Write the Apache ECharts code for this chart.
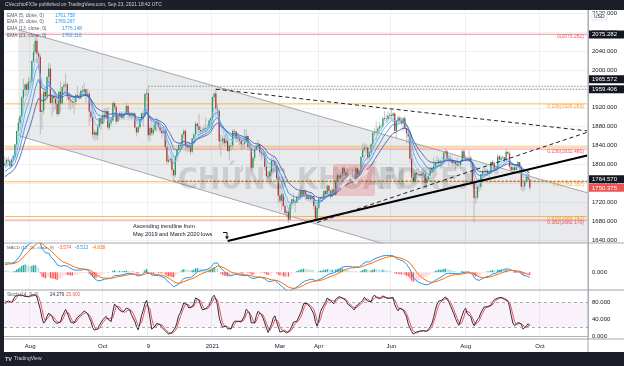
<!DOCTYPE html>
<html><head><meta charset="utf-8">
<script src="https://cdn.jsdelivr.net/npm/echarts@6.0.0/dist/echarts.min.js"></script>
<style>html,body{margin:0;padding:0;background:#fff;}#c{width:624px;height:366px;}</style>
</head><body><div id="c"></div>
<script>
// ---------- DATA (XAU/USD daily) ----------
// warm-up history for indicators (Jun 1 - Jul 10 2020), not displayed
const warmClose=[1740,1727,1700,1714,1685,1698,1715,1738,1728,1730,1726,1727,1726,1722,1744,1754,1768,1761,1762,1771,1772,1781,1769,1775,1772,1784,1795,1809,1803,1798];
const warmHigh=[1745,1745,1730,1718,1715,1702,1718,1740,1745,1737,1735,1733,1733,1730,1745,1757,1770,1773,1767,1772,1777,1785,1785,1777,1776,1787,1797,1813,1818,1808];
const warmLow=[1725,1720,1693,1698,1681,1671,1693,1712,1720,1712,1705,1714,1718,1717,1718,1741,1750,1756,1751,1760,1760,1767,1757,1765,1770,1770,1782,1795,1796,1795];
// displayed bars: Jul 13 2020 .. Sep 23 2021
const close=[
1802,1810,1808,1796,1810,1818,1842,1871,1888,1902,1941,1958,1970,1958,1975,
1976,2019,2038,2062,2035,2028,1911,1914,1954,1944,1985,2003,1930,1945,1940,1929,1907,1954,1929,1964,1968,
1970,1944,1937,1934,1931,1932,1947,1945,1940,1956,1954,1959,1945,1950,1912,1900,1863,1868,1862,1880,1898,1886,
1905,1900,1913,1878,1888,1893,1930,1922,1891,1902,1908,1899,1906,1907,1924,1905,1902,1902,1908,1878,1868,1879,
1895,1908,1904,1949,1951,1862,1877,1866,1873,1889,1888,1880,1872,1866,1871,1837,1806,1810,1812,1788,1777,
1815,1831,1841,1839,1863,1871,1839,1836,1840,1827,1855,1864,1886,1881,1873,1870,1872,1876,1877,1878,1893,1898,
1943,1950,1918,1913,1849,1850,1855,1845,1851,1828,1840,1840,1871,1870,1855,1856,1850,1843,1843,1847,
1860,1837,1835,1793,1814,1832,1838,1842,1826,1823,1819,1795,1775,1775,1784,1808,1806,1797,1770,1734,
1723,1737,1712,1697,1700,1683,1716,1726,1722,1719,1731,1731,1745,1735,1745,1737,1727,1734,1726,1733,1712,1685,1708,
1728,1729,1728,1744,1737,1755,1744,1732,1747,1736,1764,1777,1770,1778,1793,1783,1777,1780,1776,1773,1772,1768,
1792,1778,1785,1816,1831,1836,1836,1815,1826,1843,1867,1868,1869,1876,1881,1882,1898,1897,1896,1903,1905,
1903,1908,1871,1891,1899,1893,1888,1898,1877,1866,1859,1812,1773,1764,1782,1779,1779,1776,1781,1779,1761,1770,
1776,1787,1792,1796,1803,1803,1808,1806,1808,1825,1828,1812,1812,1810,1803,1805,1801,1798,1799,1806,1828,1814,
1813,1810,1814,1804,1763,1729,1730,1752,1753,1779,1786,1785,1787,1781,1781,1805,1802,1790,1792,1817,1810,1814,
1815,1809,1827,1823,1795,1788,1794,1788,1794,1805,1794,1753,1754,1764,1774,1768,1750.375];
const high=[
1817,1814,1818,1812,1814,1822,1844,1872,1898,1905,1945,1981,1971,1974,1984,
1987,2020,2055,2070,2075.282,2040,2033,1949,1956,1960,1988,2015,2013,1950,1957,1952,1940,1956,1976,1965,1975,
1992,1973,1953,1947,1935,1944,1951,1966,1952,1958,1966,1973,1960,1960,1956,1914,1903,1874,1874,1883,1900,1901,
1917,1918,1919,1921,1896,1896,1933,1933,1925,1909,1913,1912,1912,1913,1931,1925,1912,1911,1911,1910,1881,1884,
1896,1910,1915,1951,1960,1965.572,1886,1881,1884,1892,1899,1891,1884,1874,1880,1875,1840,1820,1815,1815,1792,
1820,1833,1844,1848,1867,1875,1875,1848,1848,1845,1857,1866,1891,1889,1907,1881,1878,1883,1900,1885,1896,1900,
1944,1952,1959.406,1927,1917,1863,1862,1862,1865,1857,1842,1844,1874,1875,1870,1867,1857,1852,1856,1875,
1875,1863,1844,1837,1817,1835,1844,1852,1845,1829,1828,1826,1799,1786,1790,1815,1816,1810,1798,1775,
1759,1740,1739,1717,1703,1709,1718,1727,1739,1726,1734,1740,1750,1755,1747,1747,1742,1738,1740,1736,1733,1713,1718,
1731,1732,1738,1745,1745,1758,1757,1746,1749,1749,1765,1781,1790,1785,1794,1798,1785,1790,1783,1784,1789,1781,
1798,1794,1789,1818,1843,1845,1844,1838,1828,1845,1869,1877,1891,1880,1890,1885,1900,1913,1905,1912,1909,
1916,1910,1910,1894,1904,1903,1900,1900,1903,1877,1870,1864,1824,1794,1789,1790,1795,1786,1790,1785,1780,1770,
1780,1795,1795,1815,1809,1818,1813,1810,1817,1827,1834,1831,1820,1820,1814,1809,1808,1814,1805,1807,1831,1833,
1820,1816,1832,1818,1805,1765,1745,1755,1760,1780,1789,1794,1794,1790,1787,1807,1810,1807,1798,1822,1821,1820,
1819,1816,1834,1827,1828,1800,1800,1800,1797,1808,1800,1797,1770,1767,1779,1787,1770];
const low=[
1797,1796,1800,1795,1796,1806,1814,1840,1860,1875,1900,1924,1944,1945,1950,
1962,1969,2015,2032,2015,2007,1863,1874,1906,1932,1935,1978,1931,1902,1910,1916,1901,1904,1912,1927,1955,
1961,1936,1917,1915,1921,1906,1925,1942,1936,1939,1948,1945,1930,1941,1882,1891,1855,1849,1853,1851,1876,1873,
1886,1889,1895,1873,1873,1882,1890,1916,1886,1890,1894,1895,1894,1895,1905,1893,1897,1893,1896,1876,1859,1866,
1874,1888,1880,1904,1934,1851,1849,1860,1861,1870,1870,1875,1866,1855,1864,1832,1800,1803,1803,1774,1764.57,
1773,1806,1828,1826,1830,1856,1827,1825,1826,1819,1824,1848,1860,1873,1855,1861,1863,1870,1866,1870,1875,1888,
1896,1933,1900,1904,1834,1817,1840,1837,1838,1829,1808,1829,1833,1855,1847,1846,1841,1831,1832,1834,
1845,1830,1829,1785,1787,1807,1829,1835,1816,1808,1813,1788,1768,1767,1760,1777,1782,1784,1766,1717,
1718,1702,1710,1692,1687,1676,1681,1705,1718,1699,1719,1725,1724,1728,1731,1725,1723,1722,1721,1718,1705,1680,1677,
1705,1725,1721,1727,1730,1736,1731,1727,1731,1733,1735,1762,1764,1764,1773,1777,1770,1771,1770,1763,1757,1764,
1768,1770,1774,1782,1813,1827,1824,1808,1809,1822,1838,1862,1851,1863,1868,1871,1877,1891,1888,1888,1897,
1894,1895,1867,1856,1888,1887,1882,1870,1873,1845,1845,1803,1767,1761,1766,1771,1775,1772,1768,1771,1750,1750,
1765,1776,1782,1785,1791,1793,1796,1791,1792,1804,1820,1810,1795,1803,1795,1796,1789,1791,1795,1790,1805,1813,
1807,1806,1805,1793,1759,1677,1717,1726,1742,1747,1767,1775,1775,1776,1772,1779,1798,1782,1778,1780,1808,1805,
1810,1804,1806,1821,1790,1782,1781,1785,1782,1781,1785,1745,1742,1745,1761,1762,1745];

// time axis tick labels (first bar of each labelled period)
const tickDates=['2020-08-03','2020-10-01','2020-11-09','2021-01-04','2021-03-01','2021-04-01','2021-06-01','2021-08-02','2021-10-01'];
const tickText=['Aug','Oct','9','2021','Mar','Apr','Jun','Aug','Oct'];
const priceTicks=[1640,1680,1720,1760,1800,1840,1880,1920,1960,2000,2040,2080,2120];
const stochTicks=[0,40,80];
const macdTicks=[0];

// Fibonacci levels
const fibRed=[2075.282,1832.480,1682.170];
const fibRedText=['0(2075.282)','0.236(1832.480)','0.382(1682.170)'];
const fibOrange=[1928.283,1836.969,1763.357,1689.742];
const fibOrangeText=['0.236(1928.283)','','0.5(1763.357)','0.618(1689.742)'];

// drawn trend lines [barIndex, price]
const channelUpper=[[8,2085],[345,1740]];
const channelLower=[[8,1861],[345,1504]];
const ascTrend=[[132,1638],[345,1819]];
const dashFromMarLow=[[185,1677],[345,1868]];
const dashFromJanHigh=[[125,1959.406],[345,1871]];
const dotNovHigh=[[85,1965.572],[345,1965.572]];
const dotJanHigh=[[125,1959.406],[345,1959.406]];
const dotNovLow=[[100,1764.570],[345,1764.570]];

// legend readouts
const emaPeriods=[5,8,13,21];
const emaValues=['1761.758','1769.267','1776.148','1782.116'];
const macdValues=['-3.574','-8.513','-4.938'];
const stochValues=['24.279','25.600'];
const axisBoxes=[{v:2075.282,t:'2075.282',c:'#131722'},{v:1965.572,t:'1965.572',c:'#131722'},{v:1959.406,t:'1959.406',c:'#131722'},{v:1764.570,t:'1764.570',c:'#131722'},{v:1750.375,t:'1750.375',c:'#ef5350'}];
const FUTURE_BARS=34;

// ---------- categories ----------
const dates=[];
(function(){let d=new Date(Date.UTC(2020,6,13));const total=close.length+FUTURE_BARS;
while(dates.length<total){const wd=d.getUTCDay();const md=(d.getUTCMonth()+1)*100+d.getUTCDate();
if(wd!==0&&wd!==6&&md!==1225&&md!==101)dates.push(d.toISOString().slice(0,10));d=new Date(d.getTime()+86400000);}})();

// ---------- indicators ----------
const W=warmClose.length;
const aC=warmClose.concat(close),aH=warmHigh.concat(high),aL=warmLow.concat(low);
const aO=aC.map((c,i)=>i===0?c:aC[i-1]); // spot gold: session opens at prior close
function emaOf(src,n){const k=2/(n+1);const out=[];let p=src[0];for(let i=0;i<src.length;i++){p=i===0?src[0]:src[i]*k+p*(1-k);out.push(p);}return out;}
function smaOf(src,n){const out=[];for(let i=0;i<src.length;i++){let s=0,ok=i>=n-1;if(ok){for(let j=i-n+1;j<=i;j++){if(src[j]==null){ok=false;break;}s+=src[j];}}out.push(ok?s/n:null);}return out;}
const emas=emaPeriods.map(p=>emaOf(aC,p).slice(W));
const e12=emaOf(aC,12),e26=emaOf(aC,26);
const macdAll=e12.map((v,i)=>v-e26[i]);
const sigAll=emaOf(macdAll,9);
const histAll=macdAll.map((v,i)=>v-sigAll[i]);
const rawK=aC.map((c,i)=>{if(i<13)return null;let hh=-1e9,ll=1e9;for(let j=i-13;j<=i;j++){hh=Math.max(hh,aH[j]);ll=Math.min(ll,aL[j]);}return 100*(c-ll)/(hh-ll);});
const kAll=smaOf(rawK,3),dAll=smaOf(kAll,3);
const macd=macdAll.slice(W),sig=sigAll.slice(W);
const histData=histAll.slice(W).map((v,i)=>{const p=histAll[W+i-1];let col;
 if(v>=0)col=v>p?'#26a69a':'#b2dfdb';else col=v<p?'#ff5252':'#ffcdd2';return {value:v,itemStyle:{color:col}};});
const kLine=kAll.slice(W),dLine=dAll.slice(W);
const candles=close.map((c,i)=>[i,aO[W+i],c,low[i],high[i]]);

// ---------- chart ----------
const FONT='"Liberation Sans", Arial, sans-serif';
const chart=echarts.init(document.getElementById('c'),null,{renderer:'canvas'});
const isTick=(i,v)=>tickDates.indexOf(v)>=0;
function xAx(g){return {type:'category',gridIndex:g,data:dates,boundaryGap:true,
 axisLine:{show:g===2,lineStyle:{color:'#b2b5be'}},axisTick:{show:false},
 axisLabel:{show:g===2,interval:isTick,formatter:v=>tickText[tickDates.indexOf(v)],fontSize:6,color:'#131722',margin:4,fontFamily:FONT},
 splitLine:{show:true,interval:isTick,lineStyle:{color:'#eef0f4',width:1}}};}
function seg(name,pts,style,z){return {type:'line',name:name,xAxisIndex:0,yAxisIndex:0,data:pts,showSymbol:false,symbol:'none',silent:true,z:z||3,lineStyle:style,animation:false};}
const series=[
 {type:'custom',name:'channel',xAxisIndex:0,yAxisIndex:0,clip:true,silent:true,z:1,data:[[0]],
  renderItem:function(p,api){const a=api.coord(channelUpper[0]),b=api.coord(channelUpper[1]),c=api.coord(channelLower[1]),d=api.coord(channelLower[0]);
   return {type:'polygon',shape:{points:[a,b,c,d]},style:{fill:'rgba(120,123,134,0.16)'}};}},
 seg('chU',channelUpper,{color:'#a3a6ae',width:1},2),
 seg('chL',channelLower,{color:'#a3a6ae',width:1},2)
];
fibRed.forEach((v,i)=>series.push(seg('fr'+i,[[0,v],[345,v]],{color:'rgba(242,100,110,0.55)',width:1.3},2)));
fibOrange.forEach((v,i)=>series.push(seg('fo'+i,[[0,v],[345,v]],{color:'rgba(255,167,38,0.8)',width:1},2)));
series.push(seg('dot1',dotNovHigh,{color:'#8a8d96',width:1,type:[1.5,1.5]},2));
series.push(seg('dot2',dotJanHigh,{color:'#8a8d96',width:1,type:[1.5,1.5]},2));
series.push(seg('dot3',dotNovLow,{color:'#6b5a3a',width:1,type:[2,2]},2));
series.push({type:'custom',name:'price',xAxisIndex:0,yAxisIndex:0,clip:true,silent:true,z:4,data:candles,
 encode:{x:0,y:[1,2,3,4]},
 renderItem:function(p,api){const x=api.value(0),o=api.value(1),c=api.value(2),l=api.value(3),h=api.value(4);
  const pO=api.coord([x,o]),pC=api.coord([x,c]),pL=api.coord([x,l]),pH=api.coord([x,h]);
  const up=c>=o,bw=1.25,top=Math.min(pO[1],pC[1]),bh=Math.max(Math.abs(pO[1]-pC[1]),0.7);
  return {type:'group',children:[
   {type:'line',shape:{x1:pH[0],y1:pH[1],x2:pL[0],y2:pL[1]},style:{stroke:'#9a9ea7',lineWidth:0.6}},
   {type:'rect',shape:{x:pO[0]-bw/2,y:top,width:bw,height:bh},style:{fill:up?'#1f9a55':'#b8322a'}}]};}});
const emaColors=['#7cc0f5','#4aa3ef','#2a7fd8','#3650a8'];
emas.forEach((e,i)=>series.push({type:'line',name:'EMA'+emaPeriods[i],xAxisIndex:0,yAxisIndex:0,data:e,showSymbol:false,symbol:'none',silent:true,z:5,lineStyle:{color:emaColors[i],width:0.8}}));
series.push(seg('asc',ascTrend,{color:'#000',width:2},6));
series.push(seg('d1',dashFromMarLow,{color:'#222',width:1,type:[4,3]},6));
series.push(seg('d2',dashFromJanHigh,{color:'#222',width:1,type:[4,3]},6));
// MACD
series.push({type:'bar',name:'hist',xAxisIndex:1,yAxisIndex:1,data:histData,barWidth:1.2,silent:true,z:2});
series.push({type:'line',name:'macd',xAxisIndex:1,yAxisIndex:1,data:macd,showSymbol:false,symbol:'none',silent:true,z:3,lineStyle:{color:'#2196f3',width:1}});
series.push({type:'line',name:'signal',xAxisIndex:1,yAxisIndex:1,data:sig,showSymbol:false,symbol:'none',silent:true,z:3,lineStyle:{color:'#ff6d00',width:1}});
// Stoch
series.push({type:'line',name:'K',xAxisIndex:2,yAxisIndex:2,data:kLine,showSymbol:false,symbol:'none',silent:true,z:4,lineStyle:{color:'#2a2e39',width:1},
 markArea:{silent:true,itemStyle:{color:'rgba(156,39,176,0.06)'},data:[[{yAxis:20},{yAxis:80}]]},
 markLine:{silent:true,symbol:'none',label:{show:false},lineStyle:{color:'#9598a1',type:[3,3],width:0.8},data:[{yAxis:20},{yAxis:80}]}});
series.push({type:'line',name:'D',xAxisIndex:2,yAxisIndex:2,data:dLine,showSymbol:false,symbol:'none',silent:true,z:3,lineStyle:{color:'#f2545b',width:1}});

const yLab={fontSize:6,color:'#131722',margin:4,fontFamily:FONT,formatter:v=>v.toFixed(3)};
const option={animation:false,backgroundColor:'#ffffff',
 grid:[{left:4,right:36,top:10,height:233},{left:4,right:36,top:243,height:47},{left:4,right:36,top:290,height:49}],
 xAxis:[xAx(0),xAx(1),xAx(2)],
 yAxis:[
  {type:'value',gridIndex:0,position:'right',min:1633.6,max:2127.1,axisLine:{show:true,lineStyle:{color:'#b2b5be'}},axisTick:{show:false,customValues:priceTicks},axisLabel:Object.assign({customValues:priceTicks},yLab),splitLine:{show:true,lineStyle:{color:'#eef0f4'}}},
  {type:'value',gridIndex:1,position:'right',min:-34,max:56,axisLine:{show:true,lineStyle:{color:'#b2b5be'}},axisTick:{show:false,customValues:macdTicks},axisLabel:Object.assign({customValues:macdTicks},yLab),splitLine:{show:false}},
  {type:'value',gridIndex:2,position:'right',min:-7,max:108,axisLine:{show:true,lineStyle:{color:'#b2b5be'}},axisTick:{show:false,customValues:stochTicks},axisLabel:Object.assign({customValues:stochTicks},yLab),splitLine:{show:false}}],
 series:series};
chart.setOption(option);

// ---------- overlays (positions from the library's scales) ----------
const yP=v=>chart.convertToPixel({yAxisIndex:0},v);
const DARK='#1c1f27';
const g=[];
function txt(x,y,t,fill,size,opt,z){const o={type:'text',x:x,y:y,z:z||102,silent:true,style:{text:t,fill:fill,fontSize:size,fontFamily:FONT,align:'left',verticalAlign:'middle',textAlign:'left',textVerticalAlign:'middle'}};
 if(opt){Object.assign(o.style,opt);if(opt.align){o.style.textAlign=opt.align;}}g.push(o);}
// watermark
const WM='"Liberation Sans Narrow","DejaVu Sans Condensed",Arial';
txt(178,181,'CHỨNG KHOÁN','rgba(0,0,0,0.12)',30,{fontWeight:'bold',fontFamily:WM},99);
g.push({type:'rect',z:99,silent:true,shape:{x:333,y:164,width:42,height:32,r:3},style:{fill:'rgba(230,60,60,0.22)'}});
g.push({type:'polyline',z:99,silent:true,shape:{points:[[341,188],[350,176],[356,182],[367,170]]},style:{stroke:'rgba(255,255,255,0.6)',lineWidth:3,fill:null}});
txt(378,181,'FOREX','rgba(0,0,0,0.12)',30,{fontWeight:'bold',fontFamily:WM},99);
// fib labels
fibRed.forEach((v,i)=>{if(fibRedText[i])txt(584,yP(v)+2.5,fibRedText[i],'#f05560',5,{align:'right'});});
fibOrange.forEach((v,i)=>{if(fibOrangeText[i])txt(584,yP(v)+2.5,fibOrangeText[i],'#f7a233',5,{align:'right'});});
// annotation
txt(133,226,'Ascending trendline from','#131722',5.6);
txt(133,234,'May 2019 and March 2020 lows','#131722',5.6);
g.push({type:'polyline',z:100,silent:true,shape:{points:[[223,232.5],[227,232.5],[227,238]]},style:{stroke:'#131722',lineWidth:1,fill:null}});
g.push({type:'polygon',z:100,silent:true,shape:{points:[[225,236.5],[229,236.5],[227,239.5]]},style:{fill:'#131722'}});
// panel separators and frame
[243,290,339].forEach(y=>g.push({type:'line',z:90,silent:true,shape:{x1:4,y1:y,x2:624,y2:y},style:{stroke:'#a3a6af',lineWidth:1}}));
g.push({type:'line',z:90,silent:true,shape:{x1:588,y1:10,x2:588,y2:352},style:{stroke:'#a3a6af',lineWidth:1}});
// axis price boxes
axisBoxes.forEach((b,i)=>{let y=yP(b.v);if(i===1)y-=7;if(i===3)y-=2;
 g.push({type:'rect',z:101,silent:true,shape:{x:589,y:y-4,width:35,height:8},style:{fill:b.c}});
 txt(592,y,b.t,'#ffffff',6,null,103);});
g.push({type:'rect',z:101,silent:true,shape:{x:592,y:13.5,width:15,height:6.5},style:{fill:'#fff',stroke:'#d1d4dc',lineWidth:0.6}});
txt(594,17,'USD','#131722',5,null,103);
// legends
emaPeriods.forEach((p,i)=>{const y=15.5+6.6*i;txt(7,y,'EMA ('+p+', close, 0)','#5d606b',4.8);txt(i<2?55:62,y,emaValues[i],'#2196f3',4.8);});
txt(7,247.5,'MACD (12, 26, close, 9)','#5d606b',4.4);
txt(58,247.5,macdValues[0],'#ef5350',4.6);txt(75,247.5,macdValues[1],'#2196f3',4.6);txt(92,247.5,macdValues[2],'#ff6d00',4.6);
txt(7,295,'Stoch (14, 3, 3)','#5d606b',4.6);
txt(50,295,stochValues[0],'#2a2e39',4.6);txt(66,295,stochValues[1],'#f2545b',4.6);
// dark frame: header, left border, footer
g.push({type:'rect',z:110,silent:true,shape:{x:0,y:0,width:624,height:10},style:{fill:DARK}});
g.push({type:'rect',z:110,silent:true,shape:{x:0,y:0,width:4,height:366},style:{fill:DARK}});
g.push({type:'rect',z:110,silent:true,shape:{x:0,y:352,width:624,height:14},style:{fill:DARK}});
txt(5,5,'CVecchioFX3e published on TradingView.com, Sep 23, 2021 18:42 UTC','#d1d4dc',4.9,null,111);
txt(5,359,'TV','#d1d4dc',5.5,{fontWeight:'bold'},111);
txt(14,359,'TradingView','#d1d4dc',5,null,111);
chart.setOption({graphic:{elements:g}});
</script></body></html>
